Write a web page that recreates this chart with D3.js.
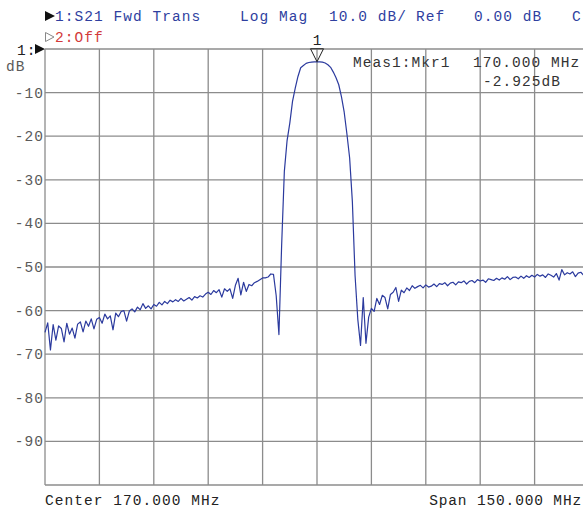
<!DOCTYPE html>
<html>
<head>
<meta charset="utf-8">
<script src="https://cdn.jsdelivr.net/npm/d3@7"></script>
<style>
  body { margin: 0; background: #fff; }
  svg { display: block; }
  text { font-family: 'Liberation Mono', 'DejaVu Sans Mono', monospace; font-size: 14.5px; letter-spacing: 1.05px; }
</style>
</head>
<body>
<svg id="svg" width="583" height="508"></svg>
<script>
// sweep settings (MHz)
var startFreq = 95;
var stopFreq = 245;
var stepFreq = 0.75;

var xTicks = [95, 110, 125, 140, 155, 170, 185, 200, 215, 230, 245];
var yTicks = [0, -10, -20, -30, -40, -50, -60, -70, -80, -90, -100];
var yLabels = ['-10', '-20', '-30', '-40', '-50', '-60', '-70', '-80', '-90'];

// S21 trace, dB, one value per sweep point (201 points)
var traceDb = [
  -65.0, -62.8, -69.0, -63.2, -66.8, -63.5, -64.1, -67.2, -62.9, -65.4,
  -64.0, -66.3, -63.1, -62.6, -64.9, -62.4, -63.6, -61.9, -64.2, -62.0,
  -61.6, -62.9, -60.8, -61.9, -61.2, -64.4, -60.6, -61.4, -60.2, -60.0,
  -62.4, -60.1, -59.6, -60.3, -59.2, -59.8, -58.4, -59.5, -58.9, -59.6,
  -58.6, -59.0, -58.1, -58.7, -57.9, -58.4, -57.6, -58.0, -57.5, -57.9,
  -57.2, -57.8, -57.4, -57.0, -57.6, -56.8, -57.1, -56.6, -56.9, -56.2,
  -55.8, -56.3, -55.4, -55.9, -55.2, -56.9, -55.0, -55.6, -55.0, -57.2,
  -54.2, -52.6, -56.4, -53.5, -55.6, -54.0, -54.3, -53.6, -53.3, -52.9,
  -52.5, -52.5, -52.3, -51.6, -51.7, -56.6, -65.5, -45.0, -28.0, -21.0,
  -17.0, -12.0, -9.0, -6.3, -4.3, -3.8, -3.3, -3.1, -3.0, -2.95,
  -2.925, -2.95, -3.0, -3.2, -3.6, -4.2, -5.3, -6.6, -8.2, -11.0,
  -14.5, -19.5, -25.0, -35.0, -52.0, -62.0, -68.0, -57.0, -67.5, -61.5,
  -59.5, -60.2, -57.2, -58.6, -56.5, -57.0, -59.6, -56.3, -55.8, -54.7,
  -57.9, -55.3, -55.9, -54.8, -55.4, -54.3, -54.9, -54.5, -54.2, -54.8,
  -54.1, -54.6, -54.4, -53.9, -54.5, -53.8, -54.0, -53.6, -54.3, -53.7,
  -53.5, -54.1, -53.4, -53.6, -53.2, -53.9, -53.3, -53.1, -53.6, -52.9,
  -53.2, -53.0, -53.5, -52.7, -52.9, -53.1, -52.6, -53.0, -52.5, -52.8,
  -52.2, -52.9, -52.4, -52.3, -52.7, -52.1, -52.6, -52.0, -52.4, -51.9,
  -52.3, -51.7, -52.1, -51.8, -52.4, -51.6, -51.9, -52.3, -51.5, -53.0,
  -50.6, -51.8, -51.3, -51.6, -51.1, -52.2, -51.4, -51.2, -51.9, -51.3,
  -51.5
];

var markerFreq = 170;
var markerDb = -2.925;

var svg = d3.select('svg');

var x = d3.scaleLinear()
    .domain([startFreq, stopFreq])
    .range([45, 589]);

var y = d3.scaleLinear()
    .domain([0, -100])
    .range([49, 485]);

var gridColor = '#8c8c8c';

// grid
svg.append('g')
    .selectAll('line')
    .data(xTicks)
    .enter()
    .append('line')
    .attr('x1', function (d) { return x(d); })
    .attr('x2', function (d) { return x(d); })
    .attr('y1', y(0))
    .attr('y2', y(-100))
    .attr('stroke', gridColor)
    .attr('stroke-width', 1.3);

svg.append('g')
    .selectAll('line')
    .data(yTicks)
    .enter()
    .append('line')
    .attr('x1', x(startFreq))
    .attr('x2', x(stopFreq))
    .attr('y1', function (d) { return y(d); })
    .attr('y2', function (d) { return y(d); })
    .attr('stroke', gridColor)
    .attr('stroke-width', 1.3);

// y labels
svg.append('g')
    .selectAll('text')
    .data(yLabels)
    .enter()
    .append('text')
    .text(function (d) { return d; })
    .attr('x', 44)
    .attr('y', function (d) { return y(+d) + 5; })
    .attr('text-anchor', 'end')
    .style('fill', '#5a5a5a');

svg.append('text')
    .text('dB')
    .attr('x', 6)
    .attr('y', 71)
    .style('fill', '#5a5a5a');

svg.append('text')
    .text('1:')
    .attr('x', 17)
    .attr('y', 55)
    .style('fill', '#222');

svg.append('path')
    .attr('d', 'M35,44 L45,49 L35,54 Z')
    .attr('fill', '#111');

// trace
var line = d3.line()
    .x(function (d, i) { return x(startFreq + i * stepFreq); })
    .y(function (d) { return y(d); });

svg.append('path')
    .datum(traceDb)
    .attr('d', line)
    .attr('fill', 'none')
    .attr('stroke', '#2b3a9e')
    .attr('stroke-width', 1.2)
    .attr('stroke-linejoin', 'round');

// marker 1
var mx = x(markerFreq);
var my = y(markerDb);
svg.append('path')
    .attr('d', 'M' + (mx - 6.5) + ',' + (my - 13) + ' L' + (mx + 6.5) + ',' + (my - 13) + ' L' + mx + ',' + my + ' Z')
    .attr('fill', 'none')
    .attr('stroke', '#222')
    .attr('stroke-width', 1);

svg.append('text')
    .text('1')
    .attr('x', mx)
    .attr('y', 45)
    .attr('text-anchor', 'middle')
    .style('letter-spacing', '0px')
    .style('fill', '#222');

svg.append('text')
    .text('Meas1:Mkr1')
    .attr('x', 353)
    .attr('y', 67)
    .style('fill', '#333');

svg.append('text')
    .text('170.000 MHz')
    .attr('x', 473)
    .attr('y', 67)
    .style('fill', '#333');

svg.append('text')
    .text('-2.925dB')
    .attr('x', 483)
    .attr('y', 86)
    .style('fill', '#333');

// header
var blue = '#2f3f9f';
svg.append('path')
    .attr('d', 'M45,11 L55,16 L45,21 Z')
    .attr('fill', '#111');

var header = [
  {t: '1:S21 Fwd Trans', x: 55},
  {t: 'Log Mag', x: 240},
  {t: '10.0 dB/', x: 329},
  {t: 'Ref', x: 416},
  {t: '0.00 dB', x: 474},
  {t: 'C', x: 572}
];

svg.append('g')
    .selectAll('text')
    .data(header)
    .enter()
    .append('text')
    .text(function (d) { return d.t; })
    .attr('x', function (d) { return d.x; })
    .attr('y', 21)
    .attr('xml:space', 'preserve')
    .style('fill', blue);

svg.append('path')
    .attr('d', 'M45.5,32.5 L54,37 L45.5,41.5 Z')
    .attr('fill', 'none')
    .attr('stroke', '#888')
    .attr('stroke-width', 1);

svg.append('text')
    .text('2:Off')
    .attr('x', 55)
    .attr('y', 42)
    .style('fill', '#d23a3a');

// footer
svg.append('text')
    .text('Center 170.000 MHz')
    .attr('x', 45)
    .attr('y', 505)
    .style('fill', '#222');

svg.append('text')
    .text('Span 150.000 MHz')
    .attr('x', 582)
    .attr('y', 505)
    .attr('text-anchor', 'end')
    .style('letter-spacing', '0.85px')
    .style('fill', '#222');
</script>
</body>
</html>
